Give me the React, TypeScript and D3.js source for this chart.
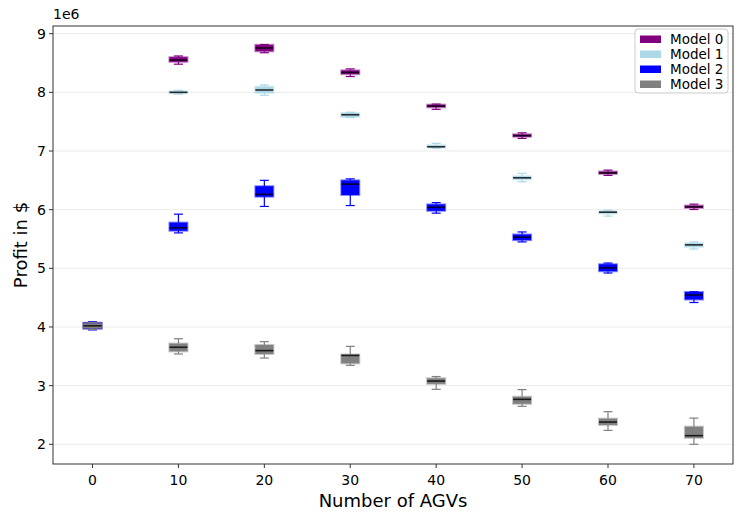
import React from "react";
import * as d3 from "d3";

// profit per run, in millions of $ : [whisker low, q1, median, q3, whisker high]
const agvCounts = [0, 10, 20, 30, 40, 50, 60, 70];
const modelNames = ["Model 0", "Model 1", "Model 2", "Model 3"];
const modelColors = ["#800080", "#add8e6", "#0000ff", "#808080"];

const model0 = [
  [3.96, 3.98, 4.03, 4.07, 4.09],
  [8.48, 8.52, 8.55, 8.6, 8.62],
  [8.675, 8.7, 8.756, 8.81, 8.815],
  [8.27, 8.31, 8.34, 8.375, 8.4],
  [7.71, 7.745, 7.766, 7.79, 7.8],
  [7.215, 7.245, 7.26, 7.285, 7.31],
  [6.584, 6.61, 6.628, 6.65, 6.674],
  [6.003, 6.03, 6.048, 6.07, 6.094],
];
const model1 = [
  [3.96, 3.98, 4.02, 4.06, 4.08],
  [7.97, 7.985, 8.0, 8.02, 8.035],
  [7.95, 7.99, 8.04, 8.097, 8.125],
  [7.57, 7.58, 7.618, 7.65, 7.66],
  [7.045, 7.06, 7.072, 7.1, 7.13],
  [6.475, 6.515, 6.543, 6.57, 6.62],
  [5.89, 5.935, 5.957, 5.975, 5.99],
  [5.33, 5.365, 5.4, 5.43, 5.45],
];
const model2 = [
  [3.95, 3.97, 4.02, 4.07, 4.09],
  [5.604, 5.64, 5.69, 5.78, 5.923],
  [6.055, 6.22, 6.26, 6.4, 6.5],
  [6.07, 6.25, 6.435, 6.5, 6.525],
  [5.94, 5.98, 6.04, 6.09, 6.12],
  [5.45, 5.48, 5.53, 5.577, 5.62],
  [4.92, 4.95, 5.007, 5.07, 5.09],
  [4.417, 4.468, 4.546, 4.597, 4.6],
];
const model3 = [
  [3.96, 3.98, 4.02, 4.06, 4.08],
  [3.54, 3.585, 3.654, 3.717, 3.8],
  [3.47, 3.54, 3.597, 3.693, 3.75],
  [3.346, 3.38, 3.515, 3.53, 3.67],
  [2.937, 3.03, 3.078, 3.125, 3.155],
  [2.647, 2.69, 2.766, 2.81, 2.932],
  [2.237, 2.33, 2.379, 2.437, 2.556],
  [2.0, 2.11, 2.147, 2.3, 2.447],
];
const yTicks = [2, 3, 4, 5, 6, 7, 8, 9];

const models = [model0, model1, model2, model3];

export default function App() {
  const width = 738;
  const height = 514;
  const margin = { top: 26, right: 5, bottom: 50, left: 53 };
  const innerW = width - margin.left - margin.right;
  const innerH = height - margin.top - margin.bottom;

  const x = d3.scaleLinear().domain([-4.6, 74.55]).range([0, innerW]);
  const y = d3.scaleLinear().domain([1.664, 9.131]).range([innerH, 0]);

  const boxW = x(2.1) - x(0);
  const capW = boxW / 2;
  const font = "DejaVu Sans, sans-serif";

  return (
    <svg
      width={width}
      height={height}
      style={{ position: "absolute", left: 0, top: 0, background: "#fff" }}
      fontFamily={font}
    >
      <g transform={`translate(${margin.left},${margin.top})`}>
        {/* grid */}
        {yTicks.map((t) => (
          <line key={"g" + t} x1={0} x2={innerW} y1={y(t)} y2={y(t)} stroke="#ebebeb" strokeWidth={1} />
        ))}

        {/* boxes */}
        {models.map((m, mi) =>
          m.map((s, i) => {
            const cx = x(agvCounts[i]);
            const [lo, q1, med, q3, hi] = s;
            const c = modelColors[mi];
            return (
              <g key={`b${mi}-${i}`}>
                <line x1={cx} x2={cx} y1={y(hi)} y2={y(q3)} stroke={c} strokeWidth={1.2} />
                <line x1={cx} x2={cx} y1={y(q1)} y2={y(lo)} stroke={c} strokeWidth={1.2} />
                <line x1={cx - capW / 2} x2={cx + capW / 2} y1={y(hi)} y2={y(hi)} stroke={c} strokeWidth={1.2} />
                <line x1={cx - capW / 2} x2={cx + capW / 2} y1={y(lo)} y2={y(lo)} stroke={c} strokeWidth={1.2} />
                <rect
                  x={cx - boxW / 2}
                  y={y(q3)}
                  width={boxW}
                  height={Math.max(0.5, y(q1) - y(q3))}
                  fill={c}
                  stroke={c}
                  strokeOpacity={0.45}
                  strokeWidth={2}
                />
                <line
                  x1={cx - boxW / 2}
                  x2={cx + boxW / 2}
                  y1={y(med)}
                  y2={y(med)}
                  stroke="#000"
                  strokeOpacity={0.8}
                  strokeWidth={1.6}
                />
              </g>
            );
          })
        )}

        {/* frame */}
        <rect x={0} y={0} width={innerW} height={innerH} fill="none" stroke="#333" strokeWidth={1} />

        {/* y axis */}
        {yTicks.map((t) => (
          <g key={"y" + t} transform={`translate(0,${y(t)})`}>
            <line x1={-4} x2={0} stroke="#333" />
            <text x={-7} dy="0.35em" textAnchor="end" fontSize={14} fill="#000">
              {t}
            </text>
          </g>
        ))}
        <text x={0} y={-7} fontSize={14} fill="#000">
          1e6
        </text>

        {/* x axis */}
        {agvCounts.map((v) => (
          <g key={"x" + v} transform={`translate(${x(v)},${innerH})`}>
            <line y1={0} y2={4} stroke="#333" />
            <text y={21} textAnchor="middle" fontSize={14} fill="#000">
              {v}
            </text>
          </g>
        ))}

        {/* legend */}
        <g transform={`translate(${innerW - 98},3)`}>
          <rect x={0} y={0} width={93} height={64} rx={3} fill="#fff" fillOpacity={0.8} stroke="#ccc" />
          {modelNames.map((n, i) => (
            <g key={n} transform={`translate(5,${10 + i * 15})`}>
              <rect x={0} y={-3.5} width={21} height={7.5} fill={modelColors[i]} />
              <text x={30} dy="0.35em" fontSize={13.5} fill="#000">
                {n}
              </text>
            </g>
          ))}
        </g>
      </g>

      <text x={margin.left + innerW / 2} y={507} textAnchor="middle" fontSize={18} fill="#000">
        Number of AGVs
      </text>
      <text
        transform={`translate(27,${margin.top + innerH / 2}) rotate(-90)`}
        textAnchor="middle"
        fontSize={18}
        fill="#000"
      >
        Profit in $
      </text>
    </svg>
  );
}
